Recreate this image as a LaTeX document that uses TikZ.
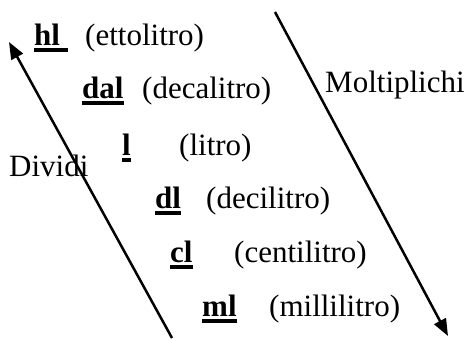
\documentclass[tikz,border=0pt]{standalone}
\usepackage{fontspec}
\setmainfont{Liberation Serif}
\usetikzlibrary{arrows.meta}
\begin{document}
\begin{tikzpicture}[x=1pt,y=-1pt,
  txt/.style={inner sep=0pt,anchor=base west,font=\fontsize{31}{36}\selectfont},
  abbr/.style={txt,font=\fontsize{31}{36}\selectfont\bfseries},
  uline/.style={line width=3.6pt},
  arr/.style={line width=2.5pt,-{Triangle[length=17pt,width=13pt]}}]
\useasboundingbox (0,0) rectangle (468,338);
% abbreviations
\node[abbr] (hl)  at (34,45)  {hl};
\node[abbr] (dal) at (82,98)  {dal};
\node[abbr] (l)   at (122,155) {l};
\node[abbr] (dl)  at (155,208) {dl};
\node[abbr] (cl)  at (170,262) {cl};
\node[abbr] (ml)  at (202,316) {ml};
% names
\node[txt] (n1) at (85,45)   {(ettolitro)};
\node[txt] (n2) at (142,98)  {(decalitro)};
\node[txt] (n3) at (179,155) {(litro)};
\node[txt] (n4) at (206,208) {(decilitro)};
\node[txt] (n5) at (234,262) {(centilitro)};
\node[txt] (n6) at (269,316) {(millilitro)};
% labels
\node[txt] (molt) at (325,92) {Moltiplichi};
\node[txt] (div)  at (9,176)  {Dividi};
% underlines
\draw[uline] ([yshift=-5pt]hl.base west) -- ([xshift=8pt,yshift=-5pt]hl.base east);
\draw[uline] ([yshift=-5pt]dal.base west) -- ([yshift=-5pt]dal.base east);
\draw[uline] ([yshift=-5pt]l.base west) -- ([yshift=-5pt]l.base east);
\draw[uline] ([yshift=-5pt]dl.base west) -- ([yshift=-5pt]dl.base east);
\draw[uline] ([yshift=-5pt]cl.base west) -- ([yshift=-5pt]cl.base east);
\draw[uline] ([yshift=-5pt]ml.base west) -- ([yshift=-5pt]ml.base east);
% arrows
\coordinate (dstart) at (172,338);
\coordinate (dend) at (9,42);
\coordinate (mstart) at (275,12);
\coordinate (mend) at (448,336);
\draw[arr] (dstart) -- (dend);
\draw[arr] (mstart) -- (mend);
\end{tikzpicture}
\end{document}
